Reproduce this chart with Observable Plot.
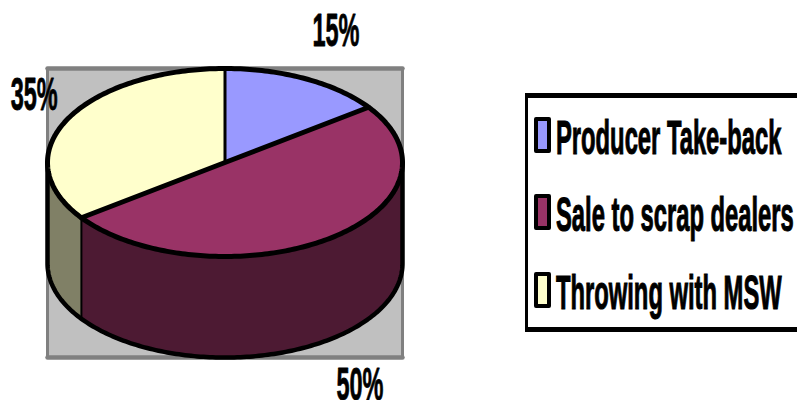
<!DOCTYPE html>
<html>
<head>
<meta charset="utf-8">
<script src="https://cdn.jsdelivr.net/npm/d3@7"></script>
<script src="https://cdn.jsdelivr.net/npm/@observablehq/plot@0.6"></script>
<style>
  html, body { margin: 0; padding: 0; background: #fff; overflow: hidden; }
  #chart { position: relative; width: 797px; height: 400px; }
  #legend { position: absolute; left: 525px; top: 93px; width: 290px; height: 229px; border: solid #000; border-width: 5px 3px; }
  .entry { position: absolute; left: 6px; height: 36px; white-space: nowrap; }
  .swatch { position: absolute; left: 0; top: 0; width: 9px; height: 28px; border: 4px solid #000; border-radius: 2px; }
  .name { position: absolute; left: 21.5px; top: -3px; font: bold 48px "Liberation Sans", Arial, sans-serif; line-height: 48px; color: #000; transform-origin: 0 50%; -webkit-text-stroke: 1.1px #000; }
</style>
</head>
<body>
<div id="chart"></div>
<script>
// Disposal routes and their shares, in percent
const routes = ["Producer Take-back", "Sale to scrap dealers", "Throwing with MSW"];
const shares = [15, 50, 35];
const topColors = ["#9999FF", "#993366", "#FFFFCC"];
const sideColors = ["#4D4D80", "#4D1A33", "#808066"];

// Percent labels, in the disc's own unit coordinates
const labelX = [0.625, 0.76, -1.075];
const labelY = [1.4, -2.37, 0.72];

const depth = 1.075;   // height of the disc's wall in disc units
const deg = Math.PI / 180;
const rim = (a, drop = 0) => ({ x: Math.sin(a * deg), y: Math.cos(a * deg) - drop });
const arc = (a0, a1, drop = 0) => d3.range(a0, a1, 1).concat(a1).map((a) => rim(a, drop));

// Slice boundaries, clockwise from twelve o'clock
const total = d3.sum(shares);
const cumulative = d3.cumsum(shares);
const slices = routes.map((route, i) => ({
  route,
  label: shares[i] + "%",
  start: (i ? cumulative[i - 1] : 0) / total * 360,
  end: cumulative[i] / total * 360,
  top: topColors[i],
  side: sideColors[i],
  lx: labelX[i],
  ly: labelY[i]
}));

const flatten = (shapes) => shapes.flatMap((s) => s.points.map((p) => ({ ...p, key: s.key, color: s.color })));

// Top faces are wedges from the centre
const topFaces = flatten(slices.map((s) => ({
  key: s.route, color: s.top,
  points: [{ x: 0, y: 0 }, ...arc(s.start, s.end), { x: 0, y: 0 }]
})));

// Only the part of each slice on the near half of the rim shows a wall
const wallFaces = flatten(slices.filter((s) => s.end > 90 && s.start < 270).map((s) => {
  const a0 = Math.max(s.start, 90), a1 = Math.min(s.end, 270);
  return { key: s.route, color: s.side, points: [...arc(a0, a1), ...arc(a0, a1, depth).reverse(), rim(a0)] };
}));

const wallOutline = [rim(90), ...arc(90, 270, depth), rim(270)];
const spokes = [rim(slices[1].start), { x: 0, y: 0 }, rim(slices[2].start)];
const wallDivider = [rim(slices[2].start), rim(slices[2].start, depth)];

const plot = Plot.plot({
  width: 797,
  height: 400,
  margin: 0,
  x: { domain: [-1, 1], range: [47, 402], axis: null },
  y: { domain: [-1, 1], range: [256, 68], axis: null },
  marks: [
    // Plot area behind the disc
    Plot.rect([{ x1: -1, x2: 1, y1: 1, y2: -1 - depth }], {
      x1: "x1", x2: "x2", y1: "y1", y2: "y2", fill: "#C0C0C0"
    }),
    Plot.line([{ x: -1, y: 1 }, { x: 1, y: 1 }], { x: "x", y: "y", stroke: "#808080", strokeWidth: 4.5 }),
    Plot.line([{ x: -1, y: -1 - depth }, { x: 1, y: -1 - depth }], { x: "x", y: "y", stroke: "#808080", strokeWidth: 4.5 }),
    Plot.line([{ x: -1, y: 1 }, { x: -1, y: -1 - depth }], { x: "x", y: "y", stroke: "#808080", strokeWidth: 3 }),
    Plot.line([{ x: 1, y: 1 }, { x: 1, y: -1 - depth }], { x: "x", y: "y", stroke: "#808080", strokeWidth: 3 }),
    // Disc wall
    Plot.line(wallFaces, { x: "x", y: "y", z: "key", fill: "color", stroke: null, curve: "linear" }),
    Plot.line(wallOutline, { x: "x", y: "y", stroke: "#000", strokeWidth: 4.5, curve: "linear" }),
    Plot.line(wallDivider, { x: "x", y: "y", stroke: "#000", strokeWidth: 2 }),
    // Disc top
    Plot.line(topFaces, { x: "x", y: "y", z: "key", fill: "color", stroke: null, curve: "linear" }),
    Plot.line([{ x: 0, y: 0 }, rim(0)], { x: "x", y: "y", stroke: "#000", strokeWidth: 3 }),
    Plot.line(spokes, { x: "x", y: "y", stroke: "#000", strokeWidth: 5 }),
    Plot.line(arc(0, 360), { x: "x", y: "y", stroke: "#000", strokeWidth: 5, curve: "linear" }),
    // Percent labels
    Plot.text(slices, {
      x: "lx", y: "ly", text: "label", fill: "#000", stroke: "#000", strokeWidth: 0.8,
      fontFamily: "Liberation Sans", fontWeight: "bold", fontSize: 46,
      textAnchor: "middle", lineAnchor: "middle", className: "share"
    })
  ]
});

// The percent labels are set tall and narrow
d3.select(plot).selectAll(".share text")
  .attr("textLength", 47)
  .attr("lengthAdjust", "spacingAndGlyphs");

const chart = document.getElementById("chart");
chart.appendChild(plot);

// Legend panel on the right
const legend = document.createElement("div");
legend.id = "legend";
const rowTop = [19, 96, 174];
routes.forEach((route, i) => {
  const row = document.createElement("div");
  row.className = "entry";
  row.style.top = rowTop[i] + "px";
  const swatch = document.createElement("span");
  swatch.className = "swatch";
  swatch.style.background = topColors[i];
  const name = document.createElement("span");
  name.className = "name";
  name.textContent = route;
  name.style.transform = "scaleX(0.495)";
  row.append(swatch, name);
  legend.appendChild(row);
});
chart.appendChild(legend);
</script>
</body>
</html>
